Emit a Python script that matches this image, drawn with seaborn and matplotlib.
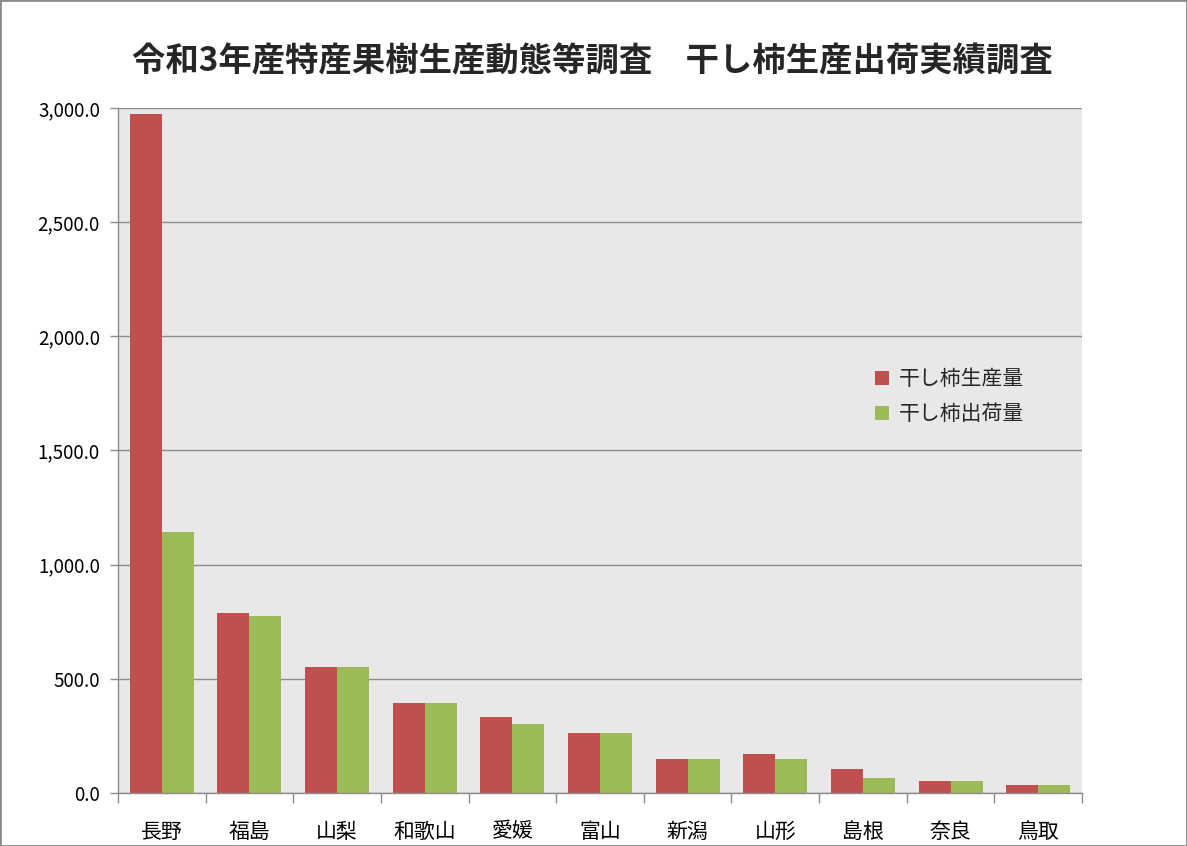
import numpy as np
import pandas as pd
import matplotlib
matplotlib.use('Agg')
import matplotlib.pyplot as plt
import seaborn as sns
from matplotlib.ticker import FuncFormatter, FixedLocator
from matplotlib.patches import Rectangle

# 都道府県
prefectures = ['長野', '福島', '山梨', '和歌山', '愛媛', '富山', '新潟', '山形', '島根', '奈良', '鳥取']
# 干し柿生産量 / 出荷量 (t)
production = [2975, 788, 552, 394, 333, 263, 150, 171, 105, 53, 35]
shipment = [1143, 775, 552, 394, 302, 263, 150, 150, 66, 53, 35]
series_names = ['干し柿生産量', '干し柿出荷量']
colors = ['#c0504d', '#9bbb59']

df = pd.DataFrame({
    '県': prefectures * 2,
    '量': production + shipment,
    '区分': [series_names[0]] * len(prefectures) + [series_names[1]] * len(prefectures),
})

sns.set_theme(style='white')
plt.rcParams['font.family'] = ['Noto Sans CJK JP', 'DejaVu Sans']

fig = plt.figure(figsize=(11.87, 8.46), dpi=100)
ax = fig.add_axes([118 / 1187, 1 - 793 / 846, (1082 - 118) / 1187, (793 - 108) / 846])

sns.barplot(data=df, x='県', y='量', hue='区分', palette=colors, width=0.73,
            saturation=1, ax=ax, legend=True, linewidth=0, edgecolor='none')

ax.set_facecolor('#e8e8e8')
ax.set_ylim(0, 3000)
ax.set_xlim(-0.5, len(prefectures) - 0.5)
ax.set_yticks(np.arange(0, 3001, 500))
ax.yaxis.set_major_formatter(FuncFormatter(lambda v, p: f'{v:,.1f}'))
ax.grid(axis='y', color='#8c8c8c', linewidth=1)
ax.set_axisbelow(True)
ax.set_xlabel('')
ax.set_ylabel('')

for s in ['top', 'right']:
    ax.spines[s].set_visible(False)
for s in ['left', 'bottom']:
    ax.spines[s].set_color('#8c8c8c')
    ax.spines[s].set_linewidth(1)

ax.xaxis.set_minor_locator(FixedLocator(np.arange(-0.5, len(prefectures), 1)))
ax.tick_params(axis='x', which='major', length=0, labelsize=15, pad=20, colors='black')
ax.tick_params(axis='x', which='minor', length=7, color='#8c8c8c', width=1, direction='out', bottom=True)
ax.tick_params(axis='y', which='major', length=6, color='#8c8c8c', width=1, direction='out',
               left=True, labelsize=13.5, colors='black', pad=7)

leg = ax.legend(loc='upper left', bbox_to_anchor=(0.766, 0.648), frameon=False, fontsize=15,
                handlelength=0.65, handleheight=0.65, labelspacing=0.65, handletextpad=0.5)

fig.suptitle('令和3年産特産果樹生産動態等調査　干し柿生産出荷実績調査', x=0.499, y=1 - 62 / 846,
             va='center', fontsize=24, fontweight='bold')

fig.patches.append(Rectangle((0, 0), 1, 1, transform=fig.transFigure, fill=False,
                             edgecolor='#8c8c8c', linewidth=2))

fig.savefig('out.png', dpi=100)
